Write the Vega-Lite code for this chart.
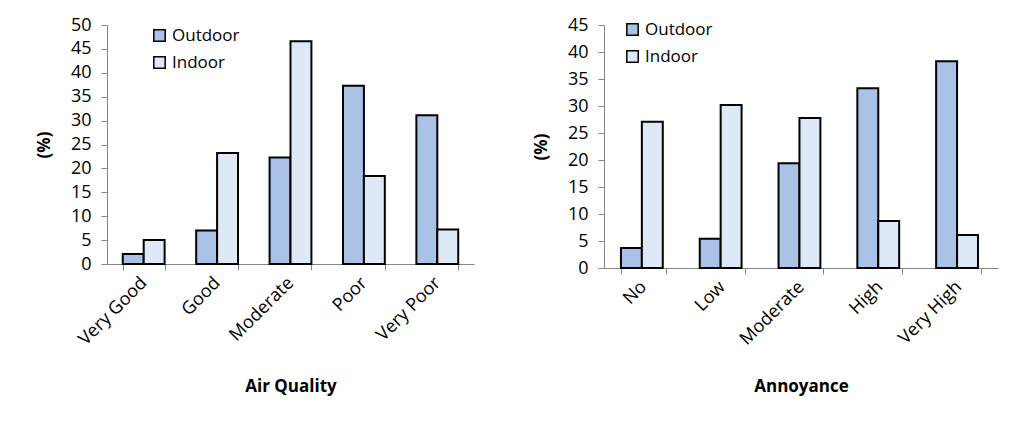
{
  "$schema": "https://vega.github.io/schema/vega-lite/v6.json",
  "background": "white",
  "padding": {"left": 35, "top": 16, "right": 5, "bottom": 5},
  "spacing": 58,
  "config": {
    "font": "Open Sans",
    "view": {"stroke": null},
    "axis": {
      "labelFont": "Open Sans",
      "labelFontSize": 18,
      "labelColor": "#000000",
      "titleFont": "Open Sans",
      "titleFontSize": 17,
      "titleFontWeight": "bold",
      "titleColor": "#000000",
      "domainColor": "#868686",
      "tickColor": "#868686",
      "tickSize": 6,
      "grid": false
    },
    "legend": {
      "labelFont": "Open Sans",
      "labelFontSize": 17,
      "labelColor": "#000000",
      "symbolType": "square",
      "symbolSize": 130,
      "symbolStrokeColor": "#000000",
      "symbolStrokeWidth": 1.5,
      "rowPadding": 8
    }
  },
  "datasets": {
    "air": [
      {"cat": "Very Good", "place": "Outdoor", "pct": 2.1},
      {"cat": "Very Good", "place": "Indoor", "pct": 5.0},
      {"cat": "Good", "place": "Outdoor", "pct": 7.0},
      {"cat": "Good", "place": "Indoor", "pct": 23.2},
      {"cat": "Moderate", "place": "Outdoor", "pct": 22.3},
      {"cat": "Moderate", "place": "Indoor", "pct": 46.6},
      {"cat": "Poor", "place": "Outdoor", "pct": 37.3},
      {"cat": "Poor", "place": "Indoor", "pct": 18.4},
      {"cat": "Very Poor", "place": "Outdoor", "pct": 31.1},
      {"cat": "Very Poor", "place": "Indoor", "pct": 7.2}
    ],
    "annoy": [
      {"cat": "No", "place": "Outdoor", "pct": 3.7},
      {"cat": "No", "place": "Indoor", "pct": 27.1},
      {"cat": "Low", "place": "Outdoor", "pct": 5.4},
      {"cat": "Low", "place": "Indoor", "pct": 30.2},
      {"cat": "Moderate", "place": "Outdoor", "pct": 19.4},
      {"cat": "Moderate", "place": "Indoor", "pct": 27.8},
      {"cat": "High", "place": "Outdoor", "pct": 33.3},
      {"cat": "High", "place": "Indoor", "pct": 8.7},
      {"cat": "Very High", "place": "Outdoor", "pct": 38.3},
      {"cat": "Very High", "place": "Indoor", "pct": 6.1}
    ]
  },
  "resolve": {"scale": {"color": "independent"}, "legend": {"color": "independent"}},
  "hconcat": [
    {
      "width": 367,
      "height": 239,
      "data": {"name": "air"},
      "mark": {"type": "bar", "stroke": "#000000", "strokeWidth": 2},
      "encoding": {
        "x": {
          "field": "cat",
          "type": "nominal",
          "sort": ["Very Good", "Good", "Moderate", "Poor", "Very Poor"],
          "scale": {"paddingInner": 0.43, "paddingOuter": 0.215},
          "axis": {"title": "Air Quality", "labelAngle": -45, "labelAlign": "right", "labelBaseline": "middle", "tickBand": "extent", "labelPadding": 10, "titlePadding": 30}
        },
        "xOffset": {"field": "place", "sort": ["Outdoor", "Indoor"]},
        "y": {
          "field": "pct",
          "type": "quantitative",
          "scale": {"domain": [0, 50]},
          "axis": {"title": "(%)", "values": [0, 5, 10, 15, 20, 25, 30, 35, 40, 45, 50], "labelPadding": 10, "titlePadding": 17}
        },
        "color": {
          "field": "place",
          "type": "nominal",
          "sort": ["Outdoor", "Indoor"],
          "scale": {"domain": ["Outdoor", "Indoor"], "range": ["#a9c2e6", "#dfe8f6"]},
          "legend": {"title": null, "orient": "none", "legendX": 44, "legendY": 2}
        }
      }
    },
    {
      "width": 394,
      "height": 243,
      "data": {"name": "annoy"},
      "mark": {"type": "bar", "stroke": "#000000", "strokeWidth": 2},
      "encoding": {
        "x": {
          "field": "cat",
          "type": "nominal",
          "sort": ["No", "Low", "Moderate", "High", "Very High"],
          "scale": {"paddingInner": 0.43, "paddingOuter": 0.215},
          "axis": {"title": "Annoyance", "labelAngle": -45, "labelAlign": "right", "labelBaseline": "middle", "tickBand": "extent", "labelPadding": 10, "titlePadding": 30}
        },
        "xOffset": {"field": "place", "sort": ["Outdoor", "Indoor"]},
        "y": {
          "field": "pct",
          "type": "quantitative",
          "scale": {"domain": [0, 45]},
          "axis": {"title": "(%)", "values": [0, 5, 10, 15, 20, 25, 30, 35, 40, 45], "labelPadding": 10, "titlePadding": 17}
        },
        "color": {
          "field": "place",
          "type": "nominal",
          "sort": ["Outdoor", "Indoor"],
          "scale": {"domain": ["Outdoor", "Indoor"], "range": ["#a9c2e6", "#dfe8f6"]},
          "legend": {"title": null, "orient": "none", "legendX": 20, "legendY": -4}
        }
      }
    }
  ]
}
